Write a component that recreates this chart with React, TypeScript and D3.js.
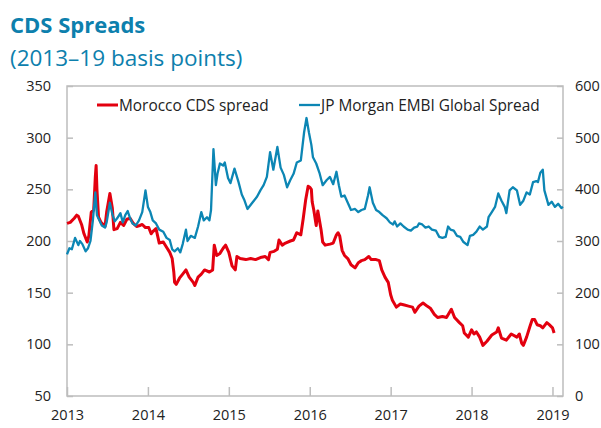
import { useEffect, useRef } from 'react';
import * as d3 from 'd3';

// Morocco CDS spread (left axis, basis points), time as decimal years
const moroccoYears = [
  2013.0, 2013.04, 2013.09, 2013.12, 2013.14, 2013.18, 2013.21, 2013.25, 2013.27, 2013.3,
  2013.33, 2013.35, 2013.36, 2013.37, 2013.39, 2013.42, 2013.47, 2013.49, 2013.53, 2013.56,
  2013.58, 2013.62, 2013.66, 2013.7, 2013.74, 2013.78, 2013.82, 2013.86, 2013.9, 2013.93,
  2013.97, 2014.01, 2014.04, 2014.06, 2014.1, 2014.14, 2014.19, 2014.23, 2014.27, 2014.3,
  2014.32, 2014.33, 2014.35, 2014.39, 2014.43, 2014.47, 2014.51, 2014.56, 2014.58, 2014.62,
  2014.66, 2014.7, 2014.76, 2014.8, 2014.82, 2014.85, 2014.89, 2014.93, 2014.96, 2015.0,
  2015.04, 2015.08, 2015.1, 2015.14, 2015.21, 2015.27, 2015.33, 2015.39, 2015.45, 2015.49,
  2015.51, 2015.56, 2015.6, 2015.62, 2015.66, 2015.7, 2015.76, 2015.8, 2015.84, 2015.89,
  2015.92, 2015.95, 2015.98, 2016.0, 2016.02, 2016.03, 2016.05, 2016.08, 2016.1, 2016.14,
  2016.16, 2016.19, 2016.25, 2016.29, 2016.33, 2016.35, 2016.37, 2016.4, 2016.43, 2016.47,
  2016.51, 2016.56, 2016.6, 2016.64, 2016.68, 2016.73, 2016.76, 2016.82, 2016.86, 2016.89,
  2016.93, 2016.97, 2017.0, 2017.02, 2017.07, 2017.12, 2017.17, 2017.22, 2017.27, 2017.3,
  2017.35, 2017.4, 2017.45, 2017.49, 2017.54, 2017.58, 2017.64, 2017.69, 2017.75, 2017.79,
  2017.85, 2017.89, 2017.91, 2017.96, 2018.0, 2018.03, 2018.06, 2018.1, 2018.14, 2018.19,
  2018.25, 2018.31, 2018.33, 2018.37, 2018.43, 2018.49, 2018.56, 2018.59, 2018.62, 2018.64,
  2018.68, 2018.72, 2018.75, 2018.78, 2018.81, 2018.85, 2018.88, 2018.93, 2018.96, 2019.0,
  2019.02,
];
const moroccoValues = [
  217, 218, 222, 225, 224, 216, 207, 199, 205, 228,
  230, 262, 273, 250, 223, 218, 214, 228, 246, 232,
  211, 212, 218, 215, 221, 222, 217, 214, 215, 216,
  213, 213, 207, 209, 212, 198, 199, 194, 189, 183,
  170, 160, 158, 164, 168, 172, 165, 160, 157, 165,
  168, 172, 170, 172, 196, 186, 188, 193, 196, 189,
  176, 172, 185, 183, 182, 183, 182, 184, 185, 182,
  189, 190, 192, 201, 196, 198, 200, 201, 208, 206,
  222, 240, 253, 252, 250, 238, 230, 215, 229, 211,
  199, 196, 197, 198, 206, 208, 205, 191, 186, 183,
  177, 174, 179, 181, 182, 185, 182, 182, 181, 172,
  165, 160, 148, 143, 136, 139, 138, 137, 136, 131,
  137, 140, 137, 135, 129, 126, 127, 126, 134, 126,
  121, 118, 111, 107, 114, 110, 112, 107, 99, 103,
  109, 112, 116, 106, 104, 110, 107, 110, 101, 99,
  107, 117, 124, 124, 119, 118, 116, 121, 119, 116,
  111,
];

// JP Morgan EMBI Global spread (right axis, basis points)
const embiYears = [
  2013.0, 2013.03, 2013.06, 2013.1, 2013.14, 2013.16, 2013.19, 2013.23, 2013.26, 2013.29,
  2013.32, 2013.35, 2013.37, 2013.4, 2013.43, 2013.47, 2013.49, 2013.53, 2013.56, 2013.59,
  2013.62, 2013.66, 2013.69, 2013.72, 2013.75, 2013.78, 2013.81, 2013.85, 2013.89, 2013.93,
  2013.97, 2014.0, 2014.03, 2014.06, 2014.1, 2014.14, 2014.19, 2014.23, 2014.27, 2014.3,
  2014.33, 2014.37, 2014.4, 2014.43, 2014.47, 2014.49, 2014.53, 2014.58, 2014.62, 2014.66,
  2014.69, 2014.73, 2014.76, 2014.78, 2014.81, 2014.84, 2014.86, 2014.89, 2014.93, 2014.95,
  2014.99, 2015.02, 2015.07, 2015.12, 2015.16, 2015.19, 2015.23, 2015.29, 2015.35, 2015.39,
  2015.43, 2015.47, 2015.51, 2015.55, 2015.6, 2015.64, 2015.68, 2015.72, 2015.76, 2015.8,
  2015.84, 2015.89, 2015.93, 2015.96, 2015.99, 2016.02, 2016.04, 2016.08, 2016.12, 2016.16,
  2016.21, 2016.25, 2016.29, 2016.33, 2016.36, 2016.39, 2016.43, 2016.47, 2016.51, 2016.56,
  2016.6, 2016.64, 2016.68, 2016.72, 2016.74, 2016.78, 2016.82, 2016.86, 2016.9, 2016.95,
  2016.99, 2017.03, 2017.05, 2017.08, 2017.12, 2017.16, 2017.21, 2017.25, 2017.29, 2017.33,
  2017.35, 2017.39, 2017.43, 2017.47, 2017.51, 2017.56, 2017.6, 2017.64, 2017.68, 2017.71,
  2017.74, 2017.78, 2017.82, 2017.86, 2017.9, 2017.95, 2017.98, 2018.02, 2018.06, 2018.1,
  2018.14, 2018.19, 2018.21, 2018.25, 2018.29, 2018.33, 2018.37, 2018.41, 2018.43, 2018.47,
  2018.51, 2018.56, 2018.6, 2018.64, 2018.68, 2018.72, 2018.76, 2018.8, 2018.82, 2018.85,
  2018.88, 2018.9, 2018.95, 2018.99, 2019.03, 2019.07, 2019.11, 2019.13,
];
const embiValues = [
  274, 286, 284, 306, 292, 300, 294, 280, 286, 300,
  340, 394, 350, 340, 330, 326, 336, 374, 352, 338,
  344, 354, 336, 350, 358, 344, 334, 330, 340, 356,
  398, 366, 356, 340, 334, 322, 318, 306, 302, 284,
  280, 286, 278, 294, 322, 300, 310, 306, 328, 356,
  340, 346, 340, 360, 478, 408, 430, 450, 446, 452,
  422, 412, 440, 414, 390, 380, 362, 374, 386, 398,
  408, 424, 472, 438, 482, 442, 428, 404, 418, 430,
  452, 456, 510, 538, 510, 486, 462, 450, 432, 408,
  418, 424, 410, 434, 408, 386, 388, 374, 360, 362,
  356, 360, 362, 388, 404, 374, 360, 356, 350, 344,
  336, 332, 338, 328, 334, 328, 322, 320, 326, 328,
  334, 332, 326, 328, 322, 320, 308, 306, 308, 328,
  322, 320, 310, 308, 298, 292, 310, 312, 318, 328,
  322, 328, 346, 356, 366, 392, 378, 366, 354, 398,
  404, 398, 370, 378, 394, 390, 414, 416, 414, 432,
  438, 398, 370, 376, 366, 372, 364, 366,
];

const yearTicks = [2013, 2014, 2015, 2016, 2017, 2018, 2019];
const leftTicks = [50, 100, 150, 200, 250, 300, 350];
const rightTicks = [0, 100, 200, 300, 400, 500, 600];

const W = 601;
const H = 428;
const margin = { top: 86, right: 38, bottom: 32, left: 67 };
const RED = '#e3000f';
const BLUE = '#0c86b4';
const TITLE = '#0d80ad';
const AXIS = '#bdbdbd';
const FONT = "'Open Sans', 'Noto Sans', sans-serif";

export default function App() {
  const ref = useRef<SVGSVGElement>(null);

  useEffect(() => {
    if (!ref.current) return;
    const svg = d3.select(ref.current);
    svg.selectAll('*').remove();

    const x0 = margin.left;
    const x1 = W - margin.right;
    const y0 = margin.top;
    const y1 = H - margin.bottom;

    const x = d3.scaleLinear().domain([2013, 2019.13]).range([x0, x1]);
    const yL = d3.scaleLinear().domain([50, 350]).range([y1, y0]);
    const yR = d3.scaleLinear().domain([0, 600]).range([y1, y0]);

    // titles
    svg.append('text')
      .attr('x', 10).attr('y', 33)
      .attr('font-family', FONT).attr('font-size', 22).attr('font-weight', 700)
      .attr('fill', TITLE).text('CDS Spreads');
    svg.append('text')
      .attr('x', 10).attr('y', 66)
      .attr('font-family', FONT).attr('font-size', 22.5)
      .attr('fill', TITLE).text('(2013–19 basis points)');

    // frame
    svg.append('rect')
      .attr('x', x0).attr('y', y0)
      .attr('width', x1 - x0).attr('height', y1 - y0)
      .attr('fill', 'none').attr('stroke', AXIS).attr('stroke-width', 1.5);

    // left axis
    const left = svg.append('g').attr('transform', `translate(${x0},0)`)
      .call(d3.axisLeft(yL).tickValues(leftTicks).tickSize(-6).tickPadding(16));
    // right axis
    const right = svg.append('g').attr('transform', `translate(${x1},0)`)
      .call(d3.axisRight(yR).tickValues(rightTicks).tickSize(-6).tickPadding(12));
    // bottom axis
    const bottom = svg.append('g').attr('transform', `translate(0,${y1})`)
      .call(d3.axisBottom(x).tickValues(yearTicks).tickFormat(d3.format('d')).tickSize(-9).tickPadding(14));

    [left, right, bottom].forEach((g) => {
      g.select('.domain').remove();
      g.selectAll('line').attr('stroke', AXIS).attr('stroke-width', 1.5);
      g.selectAll('text')
        .attr('font-family', FONT).attr('font-size', 14.5).attr('fill', '#222');
    });

    // series
    const redLine = d3.line<number>()
      .x((_, i) => x(moroccoYears[i]))
      .y((d) => yL(d));
    const blueLine = d3.line<number>()
      .x((_, i) => x(embiYears[i]))
      .y((d) => yR(d));

    svg.append('path')
      .datum(moroccoValues)
      .attr('d', redLine)
      .attr('fill', 'none').attr('stroke', RED).attr('stroke-width', 3)
      .attr('stroke-linejoin', 'round');
    svg.append('path')
      .datum(embiValues)
      .attr('d', blueLine)
      .attr('fill', 'none').attr('stroke', BLUE).attr('stroke-width', 2.3)
      .attr('stroke-linejoin', 'round');

    // legend
    const legend = [
      { label: 'Morocco CDS spread', color: RED, width: 3, x: 97 },
      { label: 'JP Morgan EMBI Global Spread', color: BLUE, width: 2.3, x: 299 },
    ];
    legend.forEach((l) => {
      svg.append('line')
        .attr('x1', l.x).attr('x2', l.x + 21)
        .attr('y1', 105).attr('y2', 105)
        .attr('stroke', l.color).attr('stroke-width', l.width);
      svg.append('text')
        .attr('x', l.x + 22).attr('y', 111)
        .attr('font-family', FONT).attr('font-size', 15.4).attr('fill', '#222')
        .text(l.label);
    });
  }, []);

  return (
    <svg
      ref={ref}
      width={W}
      height={H}
      style={{ position: 'absolute', left: 0, top: 0, background: '#fff' }}
    />
  );
}
